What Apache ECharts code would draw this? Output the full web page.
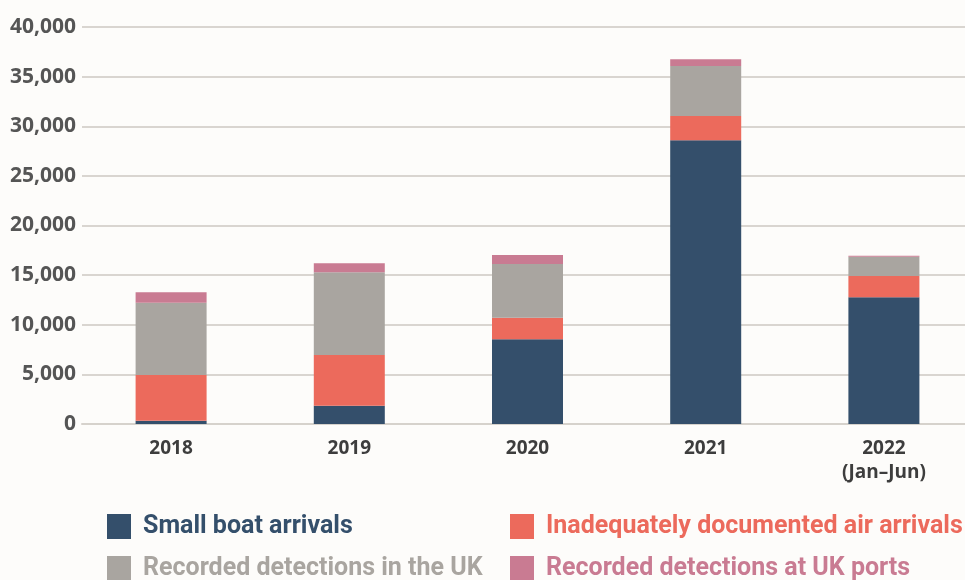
<!DOCTYPE html>
<html>
<head>
<meta charset="utf-8">
<script src="https://cdn.jsdelivr.net/npm/echarts@6/dist/echarts.min.js"></script>
<style>
  html, body { margin: 0; padding: 0; background: #fdfcfa; }
  #chart { width: 965px; height: 580px; }
</style>
</head>
<body>
<div id="chart"></div>
<script>
const years = ['2018', '2019', '2020', '2021', '2022\n(Jan–Jun)'];
const smallBoat = [330, 1840, 8530, 28580, 12770];
const airArrivals = [4610, 5110, 2180, 2450, 2140];
const detectionsUK = [7280, 8350, 5410, 5040, 1950];
const detectionsPorts = [1050, 900, 910, 680, 100];
const yTicks = [0, 5000, 10000, 15000, 20000, 25000, 30000, 35000, 40000];

const colors = {
    boat: '#344f6b',
    air: '#ec6a5c',
    uk: '#a9a5a0',
    ports: '#c97b92',
};

const chart = echarts.init(document.getElementById('chart'));

function bar(name, data, color) {
    return {
        name: name,
        type: 'bar',
        stack: 'total',
        barWidth: 71,
        itemStyle: { color: color },
        data: data,
    };
}

// one legend per item so the 2x2 layout stays put
function legendItem(name, color, left, top) {
    return {
        left: left,
        top: top,
        itemWidth: 24,
        itemHeight: 25,
        icon: 'rect',
        data: [name],
        textStyle: {
            color: color,
            fontSize: 25,
            fontWeight: 'bold',
            fontFamily: "Roboto, sans-serif",
            padding: [0, 0, 0, 7],
        },
    };
}

const option = {
    backgroundColor: '#fdfcfa',
    animation: false,
    grid: {
        left: 82,
        width: 891,
        top: 27,
        bottom: 156,
        outerBoundsMode: 'none',
    },
    legend: [
        legendItem('Small boat arrivals', colors.boat, 102, 509),
        legendItem('Recorded detections in the UK', colors.uk, 102, 551),
        legendItem('Inadequately documented air arrivals', colors.air, 505, 509),
        legendItem('Recorded detections at UK ports', colors.ports, 505, 551),
    ],
    xAxis: {
        type: 'category',
        data: years,
        axisTick: { show: false },
        axisLine: { lineStyle: { color: '#d6d2cc', width: 2 } },
        axisLabel: {
            margin: 13,
            color: '#3d3d3d',
            fontSize: 19,
            fontWeight: 'bold',
            fontFamily: "'Open Sans', sans-serif",
            lineHeight: 24,
        },
    },
    yAxis: {
        type: 'value',
        min: yTicks[0],
        max: yTicks[yTicks.length - 1],
        interval: 5000,
        axisLine: { show: false },
        axisTick: { show: false },
        splitLine: { lineStyle: { color: '#d9d5d0', width: 2 } },
        axisLabel: {
            margin: 6,
            color: '#555555',
            fontSize: 21,
            fontWeight: 'bold',
            fontFamily: "'Open Sans', sans-serif",
            formatter: function (v) {
                return v.toLocaleString('en-GB');
            },
        },
    },
    series: [
        bar('Small boat arrivals', smallBoat, colors.boat),
        bar('Inadequately documented air arrivals', airArrivals, colors.air),
        bar('Recorded detections in the UK', detectionsUK, colors.uk),
        bar('Recorded detections at UK ports', detectionsPorts, colors.ports),
    ],
};

chart.setOption(option);
</script>
</body>
</html>
